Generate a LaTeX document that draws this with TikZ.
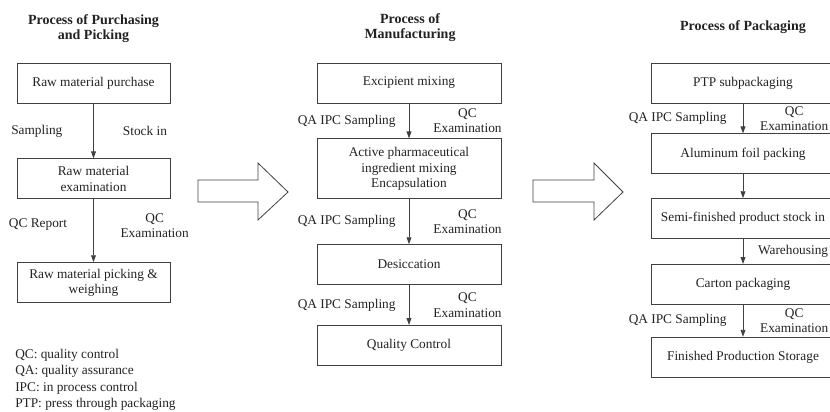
\documentclass[tikz,border=0pt]{standalone}
\usepackage{fontspec}
\setmainfont{Liberation Serif}
\usepackage{tikz}
\usetikzlibrary{arrows.meta, positioning}
\definecolor{colLine}{HTML}{404040}
\definecolor{colText}{HTML}{222222}
\tikzset{
  stepbox/.style={
    draw=colLine, line width=0.6pt, align=center,
    minimum height=30pt, inner sep=3pt, text=colText
  },
  leftbox/.style ={stepbox, minimum width=114.75pt},
  widebox/.style ={stepbox, minimum width=138pt},
  title/.style={
    align=center, text=colText,
    font=\fontsize{10.5}{11.25}\selectfont\bfseries
  },
  note/.style={align=center, text=colText, inner sep=1pt},
  legend/.style={
    align=left, text=colText, inner sep=0pt,
    font=\fontsize{10}{12.4}\selectfont
  },
  flowarr/.style={
    -{Triangle[length=5.2pt,width=3.6pt]},
    line width=0.65pt, draw=colLine
  },
  bigarr/.style={draw=colLine, line width=0.6pt, line join=miter}
}

\begin{document}
\begin{tikzpicture}[
    x=0.75pt, y=-0.75pt,
    every node/.style={font=\fontsize{10}{11.5}\selectfont}
  ]
  \useasboundingbox (0,0) rectangle (830,411);
  \clip (0,0) rectangle (830,411);

  %% ── Column 1: purchasing and picking ───────────────────────────
  \node[title] (titlebuy) at (93.5,28.5) {Process of Purchasing\\and Picking};
  \node[leftbox] (rawbuy) at (93.5,83) {Raw material purchase};
  \node[leftbox, below=41.25pt of rawbuy] (rawexam) {Raw material\\examination};
  \node[leftbox, below=47.25pt of rawexam] (rawpick) {Raw material picking \&\\weighing};

  %% ── Column 2: manufacturing ────────────────────────────────────
  \node[title] (titlemake) at (410,28) {Process of\\Manufacturing};
  \node[widebox] (excip) at (409,83) {Excipient mixing};
  \node[widebox, minimum height=45pt, below=26.25pt of excip] (apimix) {Active pharmaceutical\\ingredient mixing\\Encapsulation};
  \node[widebox, below=33.75pt of apimix] (desic) {Desiccation};
  \node[widebox, below=30pt of desic] (qcbox) {Quality Control};

  %% ── Column 3: packaging ────────────────────────────────────────
  \node[title] (titlepack) at (743,27) {Process of Packaging};
  \node[widebox] (ptp) at (743,83) {PTP subpackaging};
  \node[widebox, below=22.5pt of ptp] (alufoil) {Aluminum foil packing};
  \node[widebox, below=18pt of alufoil] (semistock) {Semi-finished product stock in};
  \node[widebox, below=18.75pt of semistock] (carton) {Carton packaging};
  \node[widebox, below=24pt of carton] (finstore) {Finished Production Storage};

  %% ── Abbreviations ──────────────────────────────────────────────
  \node[legend, anchor=north west] (abbr) at (15,348.5) {QC: quality control\\QA: quality assurance\\IPC: in process control\\PTP: press through packaging};

  %% ── Flow arrows with their labels ──────────────────────────────
  \draw[flowarr] (rawbuy) -- (rawexam)
    node[note, midway, left=22pt] {Sampling}
    node[note, midway, right=20.75pt] {Stock in};
  \draw[flowarr] (rawexam) -- (rawpick)
    node[note, pos=0.4, left=18.5pt] {QC Report}
    node[note, pos=0.42, right=19pt] {QC\\Examination};

  \draw[flowarr] (excip) -- (apimix)
    node[note, midway, left=8.75pt] {QA IPC Sampling}
    node[note, midway, right=17pt] {QC\\Examination};
  \draw[flowarr] (apimix) -- (desic)
    node[note, midway, left=8.75pt] {QA IPC Sampling}
    node[note, midway, right=17pt] {QC\\Examination};
  \draw[flowarr] (desic) -- (qcbox)
    node[note, midway, left=8.75pt] {QA IPC Sampling}
    node[note, midway, right=17pt] {QC\\Examination};

  \draw[flowarr] (ptp) -- (alufoil)
    node[note, midway, left=11pt] {QA IPC Sampling}
    node[note, midway, right=11.5pt] {QC\\Examination};
  \draw[flowarr] (alufoil) -- (semistock);
  \draw[flowarr] (semistock) -- (carton)
    node[note, midway, right=10pt] {Warehousing};
  \draw[flowarr] (carton) -- (finstore)
    node[note, midway, left=11pt] {QA IPC Sampling}
    node[note, midway, right=11.5pt] {QC\\Examination};

  %% ── Big arrows between the columns ─────────────────────────────
  \draw[bigarr] (198,180) -- (258,180) -- (258,163) -- (288,192)
    -- (258,220) -- (258,202) -- (198,202) -- cycle;
  \draw[bigarr] (533,180) -- (594,180) -- (594,163) -- (623,192)
    -- (594,220) -- (594,202) -- (533,202) -- cycle;
\end{tikzpicture}
\end{document}
